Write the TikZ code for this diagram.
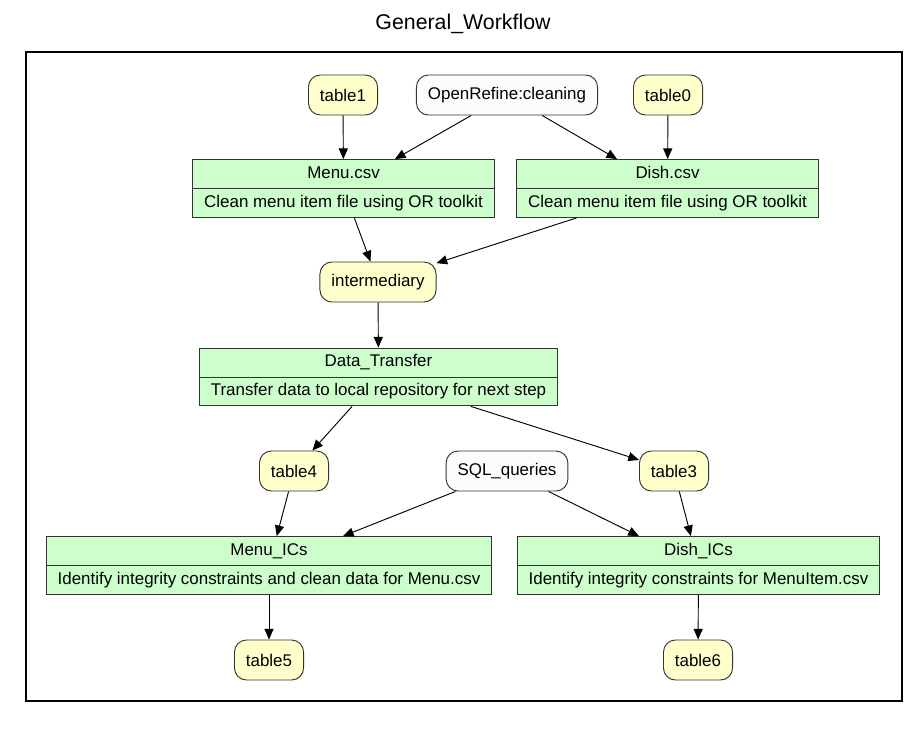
\documentclass[tikz,border=0pt]{standalone}
\usepackage{fontspec}
\setmainfont{Liberation Sans}
\usetikzlibrary{arrows.meta,shapes.multipart}
\definecolor{recgreen}{HTML}{CCFFCC}
\definecolor{tabyellow}{HTML}{FFFFCC}
\definecolor{procwhite}{HTML}{FCFCFC}
\tikzset{
  rec/.style={rectangle split, rectangle split parts=2, draw=black!80, fill=recgreen,
    inner xsep=8.6pt, inner ysep=2.9pt, font=\fontsize{12.7}{15.2}\selectfont, align=center, line width=0.7pt},
  tabnode/.style={draw=black!80, fill=tabyellow, rounded corners=9pt, minimum width=51pt,
    minimum height=30pt, inner xsep=8.6pt, font=\fontsize{12.7}{15.2}\selectfont, line width=0.7pt},
  procnode/.style={tabnode, fill=procwhite},
  arr/.style={-{Triangle[length=8pt,width=6.8pt]}, line width=0.7pt}
}
\begin{document}
\begin{tikzpicture}[x=0.75pt, y=-0.75pt]
    \useasboundingbox (0,0) rectangle (924,729);
    \node[font=\fontsize{16}{19}\selectfont] (title) at (463,24) {General\_Workflow};
    \draw[line width=1.5pt] (26,52) rectangle (902,701);

    % inputs and tools
    \node[tabnode] (table1) at (343,95) {table1};
    \node[procnode] (openrefine) at (507,95) {OpenRefine:cleaning};
    \node[tabnode] (table0) at (668,95) {table0};

    % cleaning steps
    \node[rec] (menucsv) at (343.5,188.5) {\strut Menu.csv \nodepart{two} \strut Clean menu item file using OR toolkit};
    \node[rec] (dishcsv) at (667.5,188.5) {\strut Dish.csv \nodepart{two} \strut Clean menu item file using OR toolkit};

    \node[tabnode] (intermediary) at (378,282) {intermediary};

    \node[rec] (transfer) at (378.5,377) {\strut Data\_Transfer \nodepart{two} \strut Transfer data to local repository for next step};

    \node[tabnode] (table4) at (294,471) {table4};
    \node[procnode] (sql) at (507,471) {SQL\_queries};
    \node[tabnode] (table3) at (674,471) {table3};

    % integrity constraints
    \node[rec] (menuics) at (269,565.5) {\strut Menu\_ICs \nodepart{two} \strut Identify integrity constraints and clean data for Menu.csv};
    \node[rec] (dishics) at (698.5,565.5) {\strut Dish\_ICs \nodepart{two} \strut Identify integrity constraints for MenuItem.csv};

    \node[tabnode] (table5) at (269,660) {table5};
    \node[tabnode] (table6) at (698,660) {table6};

    % edges
    \draw[arr] (table1) -- (menucsv);
    \draw[arr] (openrefine) -- (menucsv);
    \draw[arr] (openrefine) -- (dishcsv);
    \draw[arr] (table0) -- (dishcsv);
    \draw[arr] (menucsv) -- (intermediary);
    \draw[arr] (dishcsv) -- (intermediary);
    \draw[arr] (intermediary) -- (transfer);
    \draw[arr] (transfer) -- (table4);
    \draw[arr] (transfer) -- (table3);
    \draw[arr] (table4) -- (menuics);
    \draw[arr] (sql) -- (menuics);
    \draw[arr] (sql) -- (dishics);
    \draw[arr] (table3) -- (dishics);
    \draw[arr] (menuics) -- (table5);
    \draw[arr] (dishics) -- (table6);
\end{tikzpicture}
\end{document}
